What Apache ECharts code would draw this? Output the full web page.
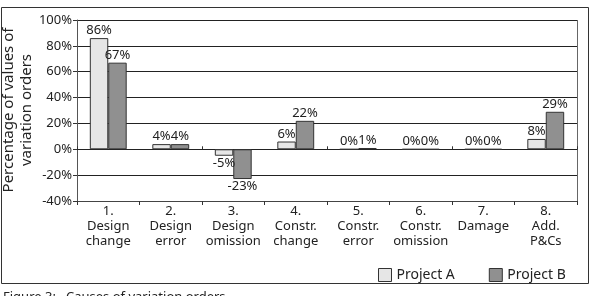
<!DOCTYPE html>
<html><head><meta charset="utf-8">
<script src="https://cdn.jsdelivr.net/npm/echarts@6/dist/echarts.min.js"></script>
<style>html,body{margin:0;padding:0;background:#fff}#c{width:598px;height:296px}</style>
</head><body><div id="c"></div>
<script>
const categories = ["1.\nDesign\nchange","2.\nDesign\nerror","3.\nDesign\nomission","4.\nConstr.\nchange","5.\nConstr.\nerror","6.\nConstr.\nomission","7.\nDamage","8.\nAdd.\nP&Cs"];
const projectA = [86, 4, -5, 6, 0, 0, 0, 8];
const projectB = [67, 4, -23, 22, 1, 0, 0, 29];
const seriesNames = ["Project A", "Project B"];
const yTitleLines = ["Percentage of values of", "variation orders"];
const caption = "Figure 3:   Causes of variation orders";

const F = "Noto Sans";
const chart = echarts.init(document.getElementById('c'));
function barSeries(name, data, color) {
  return {
    name: name, type: 'bar', data: data, barGap: '0%', barCategoryGap: '41%',
    itemStyle: { color: color, borderColor: '#333', borderWidth: 1 },
    label: { show: true, fontFamily: F, fontSize: 13, color: '#222', distance: 1,
      formatter: p => p.value + '%',
      position: 'top' }
  };
}
const sA = barSeries(seriesNames[0], projectA.map(v => ({value: v, label: {position: v < 0 ? 'bottom' : 'top'}})), '#e6e6e6');
const sB = barSeries(seriesNames[1], projectB.map(v => ({value: v, label: {position: v < 0 ? 'bottom' : 'top'}})), '#909090');
chart.setOption({
  animation: false,
  textStyle: { fontFamily: F },
  grid: { left: 77, right: 21, top: 20, bottom: 95, containLabel: false, outerBoundsMode: 'none' },
  legend: { data: seriesNames, left: 373, top: 263, itemWidth: 13, itemHeight: 13, itemGap: 34, icon: 'rect',
    textStyle: { fontFamily: F, fontSize: 14, color: '#222' },
    itemStyle: { borderColor: '#333', borderWidth: 1 } },
  xAxis: [{
    type: 'category', data: categories,
    axisLine: { onZero: false, lineStyle: { color: '#444', width: 1 } },
    axisTick: { show: true, length: 4, lineStyle: { color: '#333' } },
    axisLabel: { fontFamily: F, fontSize: 13, color: '#222', lineHeight: 15, margin: 3, interval: 0 }
  }, {
    type: 'category', data: categories, position: 'bottom',
    axisLine: { show: true, onZero: true, lineStyle: { color: '#222', width: 1 } },
    axisTick: { show: true, inside: true, length: 3, lineStyle: { color: '#333' } },
    axisLabel: { show: false }
  }],
  yAxis: {
    type: 'value', min: -40, max: 100, interval: 20,
    axisLine: { show: true, lineStyle: { color: '#555' } },
    axisTick: { show: true, length: 4, lineStyle: { color: '#333' } },
    axisLabel: { fontFamily: F, fontSize: 13, color: '#222', margin: 5, formatter: '{value}%' },
    splitLine: { show: true, lineStyle: { color: '#222', width: 1 } }
  },
  series: [sA, sB],
  graphic: [
    { type: 'rect', shape: { x: 1.5, y: 7.5, width: 587, height: 276 },
      style: { fill: 'none', stroke: '#333', lineWidth: 1 }, z: -1 },
    { type: 'line', shape: { x1: 577.5, y1: 20, x2: 577.5, y2: 201 },
      style: { stroke: '#666', lineWidth: 1 } },
    { type: 'text', x: 9, y: 110, rotation: Math.PI / 2,
      style: { text: yTitleLines[0], font: '15px "Noto Sans"', fill: '#222', align: 'center', verticalAlign: 'middle' } },
    { type: 'text', x: 27, y: 110, rotation: Math.PI / 2,
      style: { text: yTitleLines[1], font: '15px "Noto Sans"', fill: '#222', align: 'center', verticalAlign: 'middle' } },
    { type: 'text', left: 3, top: 291,
      style: { text: caption, font: '13px "Noto Sans"', fill: '#222' } }
  ]
});
</script></body></html>
